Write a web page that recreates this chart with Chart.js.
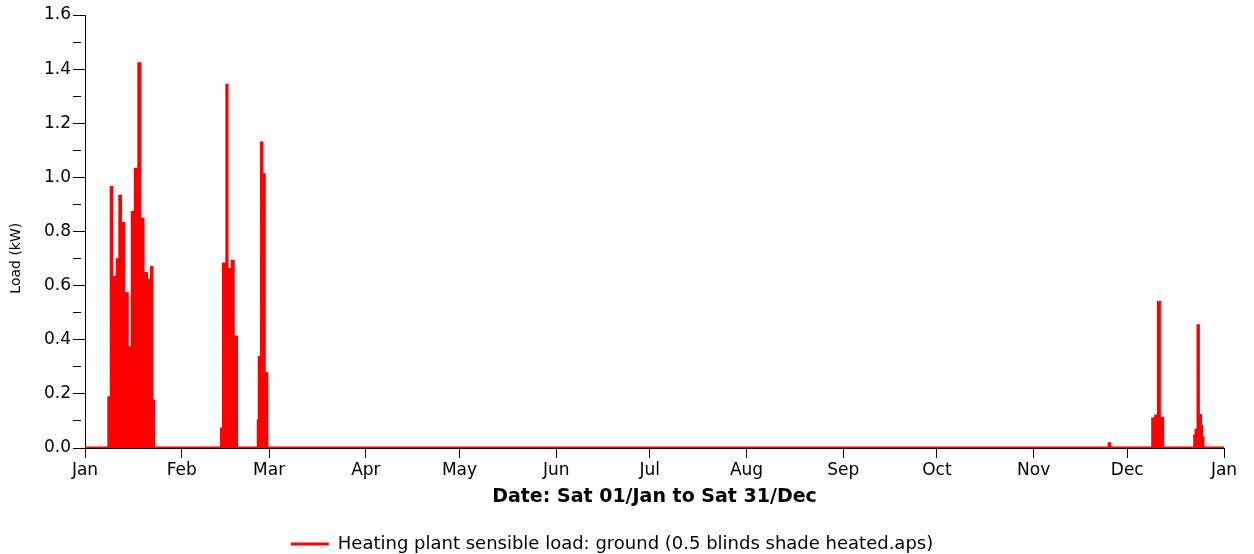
<!DOCTYPE html>
<html>
<head>
<meta charset="utf-8">
<script src="https://cdn.jsdelivr.net/npm/chart.js@4.4.1/dist/chart.umd.min.js"></script>
<style>
  html, body { margin: 0; padding: 0; background: #fff; }
</style>
</head>
<body>
<canvas id="loadChart" width="1254" height="554"></canvas>
<script>
// day of year where each step starts, and the load held from there (kW)
const loadDays = [
  0,
  7.63, 8.40, 8.53, 10.32, 11.15, 11.38, 12.40, 13.53, 15.13, 16.12, 17.24, 17.56, 18.59, 19.71, 21.31, 21.41, 21.96,
  43.75, 44.39, 45.45, 45.51, 47.18, 47.50, 48.56,
  55.51, 55.83, 56.57, 56.67, 57.44, 58.27,
  328.2, 328.33,
  342.15, 343.11, 343.97, 344.29, 345.35,
  355.61, 356.03, 356.67, 356.79, 357.47, 357.79, 358.27,
  365
];
const loadValues = [
  0,
  0.186, 0.963, 0.63, 0.696, 0.93, 0.83, 0.57, 0.37, 0.87, 1.03, 1.42, 0.845, 0.645, 0.62, 0.667, 0.174, 0,
  0.07, 0.68, 1.34, 0.66, 0.69, 0.41, 0,
  0.10, 0.334, 1.127, 1.01, 0.274, 0,
  0.016, 0,
  0.107, 0.118, 0.538, 0.11, 0,
  0.044, 0.066, 0.452, 0.12, 0.08, 0.035, 0,
  0
];
const monthStarts = [0, 31, 59, 90, 120, 151, 181, 212, 243, 273, 304, 334, 365];
const monthLabels = ['Jan', 'Feb', 'Mar', 'Apr', 'May', 'Jun', 'Jul', 'Aug', 'Sep', 'Oct', 'Nov', 'Dec', 'Jan'];

Chart.defaults.font.family = "'DejaVu Sans', 'Liberation Sans', sans-serif";
Chart.defaults.color = '#000';

const points = loadDays.map((d, i) => ({ x: d, y: loadValues[i] }));
const isMinor = v => Math.round(v * 10) % 2 !== 0;

new Chart(document.getElementById('loadChart'), {
  type: 'line',
  data: {
    datasets: [{
      label: 'Heating plant sensible load: ground (0.5 blinds shade heated.aps)',
      data: points,
      stepped: true,
      borderColor: '#ff0000',
      backgroundColor: '#ff0000',
      borderWidth: 3,
      fill: 'origin',
      pointRadius: 0
    }]
  },
  options: {
    responsive: false,
    animation: false,
    layout: { padding: { top: 15, right: 30, left: 0, bottom: -9 } },
    plugins: {
      tooltip: { enabled: false },
      legend: {
        position: 'bottom',
        labels: {
          usePointStyle: true,
          pointStyle: 'line',
          pointStyleWidth: 38,
          font: { size: 18 },
          padding: 0
        }
      }
    },
    scales: {
      x: {
        type: 'linear',
        min: 0,
        max: 365,
        afterBuildTicks: s => { s.ticks = monthStarts.map(v => ({ value: v })); },
        afterFit: s => { s.height = 87; },
        border: { color: '#000', width: 1 },
        grid: { drawOnChartArea: false, color: '#000', tickLength: 10 },
        ticks: {
          autoSkip: false,
          maxRotation: 0,
          padding: 2,
          font: { size: 17 },
          callback: (v, i) => monthLabels[i]
        },
        title: {
          display: true,
          text: 'Date: Sat 01/Jan to Sat 31/Dec',
          font: { size: 19, weight: 'bold' },
          padding: { top: 0, bottom: 27 }
        }
      },
      y: {
        min: 0,
        max: 1.6,
        afterFit: s => { s.width = 85; },
        border: { color: '#000', width: 1 },
        grid: {
          drawOnChartArea: false,
          color: '#000',
          tickLength: 12,
          tickBorderDash: c => (c.tick && isMinor(c.tick.value) ? [8, 20] : [])
        },
        ticks: {
          stepSize: 0.1,
          autoSkip: false,
          padding: 2,
          font: { size: 17 },
          callback: v => (isMinor(v) ? '' : v.toFixed(1))
        },
        title: {
          display: true,
          // trailing spaces keep the label a little below the axis middle, as in the original
          text: 'Load (kW)' + '\u00a0'.repeat(12),
          font: { size: 14 },
          padding: { top: 8, bottom: 0 }
        }
      }
    }
  }
});
</script>
</body>
</html>
